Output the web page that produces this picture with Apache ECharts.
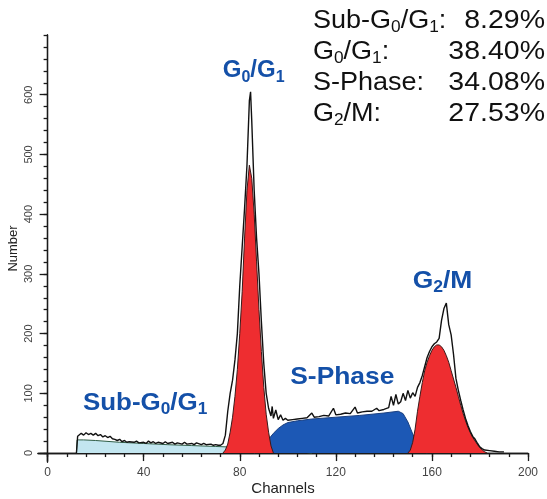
<!DOCTYPE html>
<html><head><meta charset="utf-8">
<script src="https://cdn.jsdelivr.net/npm/echarts@6/dist/echarts.min.js"></script>
<style>html,body{margin:0;padding:0;background:#fff}#c{width:547px;height:499px}</style>
</head><body><div id="c"></div>
<script>
// ---- tick values ----
const xMinorTicks = [0,8,16,24,32,40,48,56,64,72,80,88,96,104,112,120,128,136,144,152,160,168,176,184,192,200];
const xMajorTicks = [0,40,80,120,160,200];
const yMinorTicks = [0,20,40,60,80,100,120,140,160,180,200,220,240,260,280,300,320,340,360,380,400,420,440,460,480,500,520,540,560,580,600,620,640,660,680,700];
const yMajorTicks = [0,100,200,300,400,500,600];

// ---- raw histogram (black outline) ----
const rawChannels = [12,12.5,13,14,15,16,17,18,19,20,21,22,23,24,25,26,27,28,29,30,31,32,33,34,36,37,38,40,41,42,43,44,45,46,48,49,50,52,53,54,56,57,58,60,61,62,64,65,66,68,69,70,71,72,73,74,75,76,77,78,79,80,81,82,83,84,84.5,85,86,87,88,89,90,91,92,93,93.5,94,95,96,97,98,99,100,102,104,106,108,110,111,113,115,117,119,120,122,124,126,128,129,131,133,135,137,138,140,142,143,144,145,146,147,148,149,150,151,152,153,154,155,156,157,158,159,160,161,162,163,164,165,166,167,168,169,170,171,172,173,174,175,176,177,178,179,180,181,182,184,186,188,190];
const rawCounts   = [0,28,30,33,30,34,31,33,30,33,29,31,27,29,26,28,24,23,21,23,19,21,18,19,18,20,17,18,16,20,17,19,16,18,16,19,16,18,15,17,15,18,15,16,14,17,14,16,14,15,13,14,13,13,16,30,70,100,122,156,200,280,345,410,482,590,605,555,440,360,300,220,150,100,75,62,78,58,72,56,64,55,58,55,56,57,58,59,67,60,61,63,62,75,64,65,67,66,77,67,69,70,70,75,71,73,76,95,80,98,82,86,100,88,105,92,101,95,110,118,130,145,160,170,178,183,186,192,222,242,251,215,198,165,125,105,88,72,58,46,36,28,23,16,10,7,5,4,3,2,2];

// ---- Sub-G0/G1 component ----
const subChannels = [12,12.3,15,20,30,40,50,60,70,80,90,100,110];
const subCounts   = [0,22,22,21,18,16,14,12.5,11,9.5,7,4,0];

// ---- G0/G1 component ----
const g1Channels = [73,74,75,76,77,78,79,80,81,82,83,84,85,86,87,88,89,90,91,92,93,94];
const g1Counts   = [0,5,15,35,60,95,140,200,270,360,440,482,460,400,320,240,170,110,65,35,12,0];

// ---- S-Phase component ----
const sChannels = [86,88,90,92,94,96,98,100,104,110,120,130,140,146,148,150,152,154,156,158];
const sCounts   = [0,5,13,23,33,41,47,51,54,57,60,63,67,70,66,52,32,15,5,0];

// ---- G2/M component ----
const g2Channels = [150,151,152,153,154,155,156,157,158,159,160,161,162,163,164,165,166,167,168,169,170,171,172,173,174,175,176,177,178,179,180,181,182,183];
const g2Counts   = [0,5,18,40,70,95,118,138,152,163,172,178,181,181,178,172,163,152,138,124,110,95,80,66,54,43,34,26,20,14,9,5,2,0];

// ---- text ----
const statNames  = ['{n|Sub-G}{s|0}{n|/G}{s|1}{n|:}', '{n|G}{s|0}{n|/G}{s|1}{n|:}', '{n|S-Phase:}', '{n|G}{s|2}{n|/M:}'];
const statValues = ['8.29%', '38.40%', '34.08%', '27.53%'];
const phaseLabels = [
  {text:'{n|G}{s|0}{n|/G}{s|1}', at:[85.8, 641], sx:1.0},
  {text:'{n|S-Phase}', at:[122.7, 126], sx:1.1},
  {text:'{n|G}{s|2}{n|/M}', at:[164.4, 288], sx:1.1},
  {text:'{n|Sub-G}{s|0}{n|/G}{s|1}', at:[40.6, 84], sx:1.08}
];

const FONT = 'Liberation Sans, Arial, Helvetica, sans-serif';
const zip = (a, b) => a.map((v, i) => [v, b[i]]);

const chart = echarts.init(document.getElementById('c'));
const axisCommon = {type:'value', splitLine:{show:false}};
chart.setOption({
  animation:false,
  backgroundColor:'#fff',
  grid:{left:38, right:19, top:35, bottom:37, containLabel:false, outerBoundsMode:'none'},
  xAxis:[
    Object.assign({}, axisCommon, {min:-4, max:200, position:'bottom',
      axisLine:{onZero:true, lineStyle:{color:'#1a1a1a', width:1.3}},
      axisTick:{customValues:xMinorTicks, length:4, lineStyle:{color:'#1a1a1a', width:1.3}},
      axisLabel:{show:false}}),
    Object.assign({}, axisCommon, {min:-4, max:200, position:'bottom',
      axisLine:{onZero:true, lineStyle:{color:'#1a1a1a', width:1.3}},
      axisTick:{customValues:xMajorTicks, length:8, lineStyle:{color:'#1a1a1a', width:1.3}},
      axisLabel:{customValues:xMajorTicks, margin:5, fontSize:12, color:'#444', fontFamily:FONT},
      name:'Channels', nameLocation:'middle', nameGap:19, nameMoveOverlap:false,
      nameTextStyle:{fontSize:15, color:'#222', fontFamily:FONT}})
  ],
  yAxis:[
    Object.assign({}, axisCommon, {min:-15, max:700, position:'left',
      axisLine:{onZero:true, lineStyle:{color:'#1a1a1a', width:1.3}},
      axisTick:{customValues:yMinorTicks, length:4, lineStyle:{color:'#1a1a1a', width:1.3}},
      axisLabel:{show:false}}),
    Object.assign({}, axisCommon, {min:-15, max:700, position:'left',
      axisLine:{onZero:true, lineStyle:{color:'#1a1a1a', width:1.3}},
      axisTick:{customValues:yMajorTicks, length:8, lineStyle:{color:'#1a1a1a', width:1.3}},
      axisLabel:{customValues:yMajorTicks, rotate:90, margin:4, fontSize:11, color:'#444', fontFamily:FONT},
      name:'Number', nameLocation:'middle', nameGap:18, nameRotate:90, nameMoveOverlap:false,
      nameTextStyle:{fontSize:13, color:'#222', fontFamily:FONT}})
  ],
  series:[
    {type:'line', name:'Sub-G0/G1', data:zip(subChannels, subCounts), symbol:'none',
      lineStyle:{color:'#2f5d46', width:1}, areaStyle:{color:'#c3e6f0', opacity:1}, z:2},
    {type:'line', name:'S-Phase', data:zip(sChannels, sCounts), symbol:'none',
      lineStyle:{color:'#1a3f80', width:1}, areaStyle:{color:'#1c58b5', opacity:1}, z:3},
    {type:'line', name:'G0/G1', data:zip(g1Channels, g1Counts), symbol:'none',
      lineStyle:{color:'#3a1a1a', width:1}, areaStyle:{color:'#ee2d30', opacity:1}, z:4},
    {type:'line', name:'G2/M', data:zip(g2Channels, g2Counts), symbol:'none',
      lineStyle:{color:'#3a1a1a', width:1}, areaStyle:{color:'#ee2d30', opacity:1}, z:4},
    {type:'line', name:'Raw', data:zip(rawChannels, rawCounts), symbol:'none',
      lineStyle:{color:'#111', width:1.4}, z:6}
  ]
});

const graphics = [];
const statTop = [6, 37, 68, 99];
statNames.forEach((t, i) => {
  graphics.push({type:'text', x:313, y:statTop[i], scaleX:1.08, z:10,
    style:{text:t, textAlign:'left', textVerticalAlign:'top', fill:'#111',
      rich:{n:{fontSize:25, lineHeight:30, fontFamily:FONT, fill:'#111', verticalAlign:'middle'},
            s:{fontSize:16, lineHeight:14, fontFamily:FONT, fill:'#111', verticalAlign:'bottom'}}}});
  graphics.push({type:'text', x:545, y:statTop[i], scaleX:1.14, z:10,
    style:{text:statValues[i], textAlign:'right', textVerticalAlign:'top', fill:'#111',
      font:'25px ' + FONT, lineHeight:30}});
});
phaseLabels.forEach(p => {
  const px = chart.convertToPixel({xAxisIndex:0, yAxisIndex:0}, p.at);
  graphics.push({type:'text', x:px[0], y:px[1], scaleX:p.sx, z:10,
    style:{text:p.text, textAlign:'center', textVerticalAlign:'middle', fill:'#1450a8',
      rich:{n:{fontSize:24, fontWeight:'bold', lineHeight:30, fontFamily:FONT, fill:'#1450a8', verticalAlign:'middle'},
            s:{fontSize:16, fontWeight:'bold', lineHeight:14, fontFamily:FONT, fill:'#1450a8', verticalAlign:'bottom'}}}});
});
chart.setOption({graphic:graphics});
</script>
</body></html>
